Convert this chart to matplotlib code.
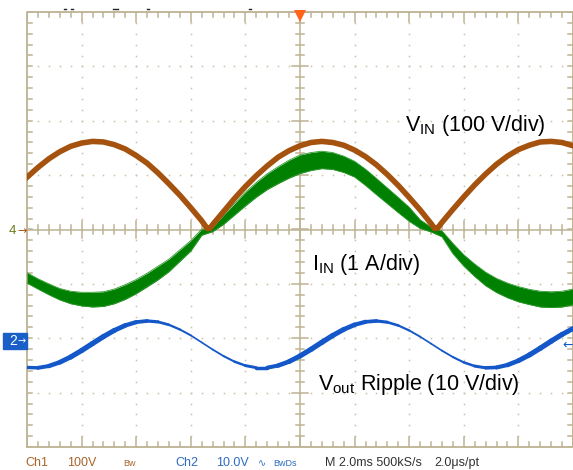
import numpy as np
import matplotlib.pyplot as plt
from matplotlib.collections import LineCollection
from matplotlib.patches import Rectangle

plt.rcParams['font.family'] = ['Liberation Sans', 'DejaVu Sans']
plt.rcParams['mathtext.fontset'] = 'custom'
plt.rcParams['mathtext.rm'] = 'Liberation Sans'
plt.rcParams['mathtext.it'] = 'Liberation Sans'

# scope settings
ms_per_div = 2.0
ch1_v_per_div = 100.0   # V_IN (brown)
ch4_a_per_div = 1.0     # I_IN (green)
ch2_v_per_div = 10.0    # Vout ripple (blue)
ch1_offset = 0.0        # divisions
ch4_offset = 0.0
ch2_offset = -2.05

# sample times, ms
t_ms = [0.0, 0.4, 0.8, 1.2, 1.6, 2.0, 2.4, 2.8, 3.2, 3.6, 4.0, 4.4, 4.8,
        5.2, 5.6, 6.0, 6.4, 6.8, 7.2, 7.6, 8.0, 8.4, 8.8, 9.2, 9.6, 10.0,
        10.4, 10.8, 11.2, 11.6, 12.0, 12.4, 12.8, 13.2, 13.6, 14.0, 14.4,
        14.8, 15.2, 15.6, 16.0, 16.4, 16.8, 17.2, 17.6, 18.0, 18.4, 18.8,
        19.2, 19.6, 20.0]

# V_IN, rectified line voltage (V)
vin_t = [0.0, 0.4, 0.8, 1.2, 1.6, 2.0, 2.4, 2.8, 3.2, 3.6, 4.0, 4.4, 4.8,
         5.2, 5.6, 6.0, 6.4, 6.6, 6.7, 6.8, 7.2, 7.6, 8.0, 8.4, 8.8, 9.2,
         9.6, 10.0, 10.4, 10.8, 11.2, 11.6, 12.0, 12.4, 12.8, 13.2, 13.6,
         14.0, 14.4, 14.8, 14.93, 15.03, 15.2, 15.6, 16.0, 16.4, 16.8, 17.2,
         17.6, 18.0, 18.4, 18.8, 19.2, 19.6, 20.0]
vin_v = [96, 114, 130, 143, 153, 159, 162, 161, 156, 148, 136, 122, 104,
         84, 63, 40, 16, 2, 2, 9, 33, 57, 79, 99, 117, 133,
         145, 154, 160, 162, 160, 155, 146, 134, 119, 101, 81,
         59, 36, 11, 2, 2, 13, 37, 60, 82, 102, 120,
         135, 147, 155, 161, 162, 160, 154]

# I_IN, line current (A) and its switching ripple band (A pk-pk)
iin_a = [-0.89, -1.00, -1.10, -1.19, -1.25, -1.28, -1.29, -1.28, -1.23,
         -1.15, -1.05, -0.93, -0.80, -0.66, -0.48, -0.30, -0.05, 0.00,
         0.18, 0.37, 0.56, 0.73, 0.88, 1.00, 1.11, 1.20, 1.25, 1.28, 1.26,
         1.20, 1.11, 0.96, 0.79, 0.62, 0.45, 0.28, 0.10, 0.00, -0.08,
         -0.35, -0.57, -0.75, -0.91, -1.03, -1.12, -1.19, -1.24, -1.28,
         -1.29, -1.28, -1.24]
iin_ripple = [0.19, 0.19, 0.20, 0.21, 0.23, 0.25, 0.27, 0.27, 0.27, 0.27,
              0.26, 0.25, 0.25, 0.23, 0.21, 0.19, 0.11, 0.08, 0.17, 0.21,
              0.25, 0.27, 0.29, 0.31, 0.33, 0.34, 0.33, 0.32, 0.31, 0.30,
              0.29, 0.30, 0.30, 0.29, 0.28, 0.26, 0.16, 0.09, 0.11, 0.19,
              0.21, 0.23, 0.25, 0.26, 0.27, 0.28, 0.28, 0.29, 0.29, 0.29,
              0.29]

# output voltage ripple (V)
vout_v = [-4.87, -4.94, -4.61, -3.92, -2.95, -1.76, -0.47, 0.81, 1.95,
          2.86, 3.46, 3.68, 3.51, 2.97, 2.11, 1.03, -0.27, -1.57, -2.78,
          -3.80, -4.53, -4.91, -4.91, -4.52, -3.79, -2.76, -1.55, -0.25,
          1.01, 2.12, 2.98, 3.52, 3.68, 3.45, 2.85, 1.93, 0.79, -0.49,
          -1.78, -2.96, -3.94, -4.62, -4.94, -4.87, -4.42, -3.63, -2.58,
          -1.34, -0.04, 1.20, 2.28]

W, H = 573, 470
grid_c = '#BDB393'
brown = '#A4520E'
green = '#008000'
blue = '#1357C8'

fig = plt.figure(figsize=(W / 100, H / 100), dpi=100)
ax = fig.add_axes([27 / W, 23 / H, 546 / W, 435 / H])
ax.set_xlim(0, 10)
ax.set_ylim(-4, 4)
ax.axis('off')

# dotted graticule
for k in range(1, 10):
    if k != 5:
        ax.plot([k] * 41, np.linspace(-4, 4, 41), ls='none', marker='s',
                ms=1.1, mew=0, color='#C9C0A4', zorder=1)
for k in range(-3, 4):
    if k != 0:
        ax.plot(np.linspace(0, 10, 51), [k] * 51, ls='none', marker='s',
                ms=1.1, mew=0, color='#C9C0A4', zorder=1)

# frame and centre cross
ax.plot([0, 10, 10, 0, 0], [-4, -4, 4, 4, -4], color=grid_c, lw=1.3,
        clip_on=False, zorder=1)
ax.plot([0, 10], [0, 0], color=grid_c, lw=1.1, zorder=1)
ax.plot([5, 5], [-4, 4], color=grid_c, lw=1.1, zorder=1)

xs = np.arange(0, 10.01, 0.2)
ys = np.arange(-4, 4.01, 0.2)
for x in xs:
    major = abs(x - round(x)) < 1e-6
    L = 0.19 if major else 0.09
    ax.plot([x, x], [4, 4 - L], color=grid_c, lw=1.1, zorder=1)
    ax.plot([x, x], [-4, -4 + L], color=grid_c, lw=1.1, zorder=1)
    c = 0.15 if major else 0.075
    ax.plot([x, x], [-c, c], color=grid_c, lw=1.1, zorder=1)
for y in ys:
    major = abs(y - round(y)) < 1e-6
    ax.plot([0, 0.09], [y, y], color=grid_c, lw=1.1, zorder=1)
    ax.plot([10, 9.91], [y, y], color=grid_c, lw=1.1, zorder=1)
    c = 0.15 if major else 0.075
    ax.plot([5 - c, 5 + c], [y, y], color=grid_c, lw=1.1, zorder=1)

# traces
t = np.array(t_ms) / ms_per_div
i_c = np.array(iin_a) / ch4_a_per_div + ch4_offset
i_h = np.array(iin_ripple) / ch4_a_per_div / 2
ax.fill_between(t, i_c - i_h, i_c + i_h, color=green, lw=0, zorder=3)
ax.plot(t, i_c + i_h, color='#2E9A2E', lw=0.6, zorder=3)
ax.plot(t, i_c - i_h, color='#2E9A2E', lw=0.6, zorder=3)

ax.plot(np.array(vin_t) / ms_per_div, np.array(vin_v) / ch1_v_per_div + ch1_offset,
        color=brown, lw=4.0, solid_joinstyle='round', zorder=4)

vy = np.array(vout_v) / ch2_v_per_div + ch2_offset
pts = np.column_stack([t, vy])
segs = np.stack([pts[:-1], pts[1:]], axis=1)
dv = np.diff(vy)
r = np.clip(0.5 + 0.5 * dv / np.abs(dv).max(), 0, 1)
lc = LineCollection(segs, colors=blue, linewidths=1.2 + 2.6 * r,
                    capstyle='round', joinstyle='round', zorder=5)
ax.add_collection(lc)

# trigger marker
ax.plot([5], [3.93], marker='v', ms=8, color='#FF6418', mew=0, clip_on=False,
        zorder=6)


def px(x, y):
    return x / W, 1 - y / H


# record view marks above the graticule
for x0, x1 in [(64, 66), (71, 73), (113, 118), (147, 149), (249, 251)]:
    fig.add_artist(plt.Line2D([x0 / W, x1 / W], [1 - 9 / H] * 2, color='#222222',
                              lw=1.0))

# channel ground markers
fig.text(*px(9, 231), '4', color='#6E7A1A', fontsize=9.5, va='center')
fig.text(*px(17, 231), '→', color=brown, fontsize=8, va='center',
         family='DejaVu Sans')
fig.patches.append(Rectangle(px(3, 349), 24 / W, 16 / H, color='#1A5FC8',
                             transform=fig.transFigure, figure=fig))
fig.text(*px(9, 341), '2', color='white', fontsize=10, va='center')
fig.text(*px(18, 341), '→', color='white', fontsize=7, va='center',
         family='DejaVu Sans')
fig.text(*px(562, 345), '←', color=blue, fontsize=9, va='center',
         family='DejaVu Sans')

# trace labels
fig.text(*px(405, 131), r'V$_{\rm IN}$ (100 V/div)', fontsize=15.5, va='baseline')
fig.text(*px(312, 270), r'I$_{\rm IN}$ (1 A/div)', fontsize=15.5, va='baseline')
fig.text(*px(318, 390), r'V$_{\rm out}$ Ripple (10 V/div)', fontsize=15.5,
         va='baseline')

# status line
c1 = '#A8652A'
c2 = '#2D6CC0'
status = [(25, 'Ch1', c1, 9), (67, '100V', c1, 9), (123, 'Bw', c1, 6.5),
          (175, 'Ch2', c2, 9), (216, '10.0V', c2, 9), (258, '∿', c2, 7),
          (273, 'BwDs', c2, 6.5), (325, 'M 2.0ms 500kS/s', '#333333', 9),
          (434, '2.0μs/pt', '#333333', 9)]
for x, s, c, fs in status:
    fig.text(*px(x, 466), s, color=c, fontsize=fs, va='baseline')

fig.savefig('out.png', dpi=100)
